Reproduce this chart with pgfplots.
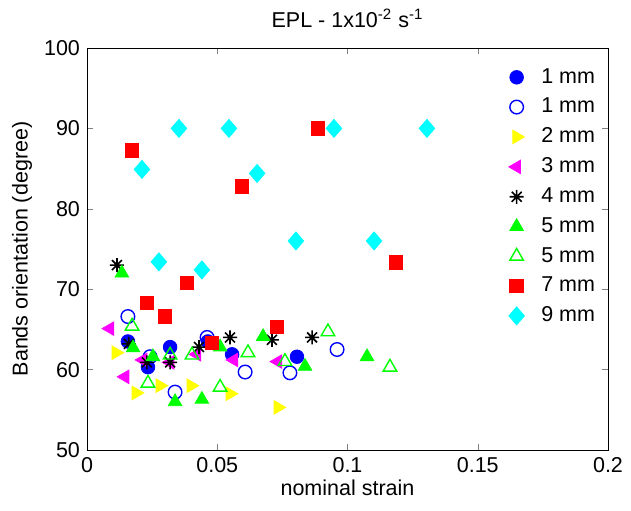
\documentclass[border=0pt]{standalone}
\usepackage{fontspec}
\setmainfont{Liberation Sans}
\usepackage{pgfplots}
\pgfplotsset{compat=1.18}

\definecolor{mblue}{RGB}{0,0,255}
\definecolor{myellow}{RGB}{255,255,0}
\definecolor{mmagenta}{RGB}{255,0,255}
\definecolor{mgreen}{RGB}{0,255,0}
\definecolor{mred}{RGB}{255,0,0}
\definecolor{mcyan}{RGB}{0,255,255}

% matlab-like asterisk (plus + cross)
\pgfdeclareplotmark{mstar}{%
  \pgfpathmoveto{\pgfqpoint{-\pgfplotmarksize}{0pt}}\pgfpathlineto{\pgfqpoint{\pgfplotmarksize}{0pt}}%
  \pgfpathmoveto{\pgfqpoint{0pt}{-\pgfplotmarksize}}\pgfpathlineto{\pgfqpoint{0pt}{\pgfplotmarksize}}%
  \pgfpathmoveto{\pgfqpoint{-.707\pgfplotmarksize}{-.707\pgfplotmarksize}}\pgfpathlineto{\pgfqpoint{.707\pgfplotmarksize}{.707\pgfplotmarksize}}%
  \pgfpathmoveto{\pgfqpoint{-.707\pgfplotmarksize}{.707\pgfplotmarksize}}\pgfpathlineto{\pgfqpoint{.707\pgfplotmarksize}{-.707\pgfplotmarksize}}%
  \pgfusepathqstroke}

\begin{document}
\begin{tikzpicture}
\path[use as bounding box] (-43.5bp,-30.5bp) rectangle (272bp,225bp);
\begin{axis}[
  at={(0,0)}, anchor=south west,
  scale only axis,
  width=260.5bp, height=201bp,
  xmin=0, xmax=0.2, ymin=50, ymax=100,
  xtick={0,0.05,0.1,0.15,0.2},
  xticklabels={0,0.05,0.1,0.15,0.2},
  ytick={50,60,70,80,90,100},
  /pgf/number format/assume math mode=true,
  tick pos=both, tick align=inside,
  major tick length=3bp,
  font=\fontsize{10.75bp}{13bp}\selectfont,
  every axis title shift=0pt,
  title={EPL - 1x10\textsuperscript{-2} s\textsuperscript{-1}},
  title style={at={(axis description cs:0.5,1.0746)}, anchor=center},
  xlabel={nominal strain},
  xlabel style={at={(axis description cs:0.5,-0.0945)}, anchor=center},
  ylabel={Bands orientation (degree)},
  ylabel style={at={(axis description cs:-0.1248,0.5)}, anchor=center},
  legend style={at={(axis description cs:0.995,0.97)}, anchor=north east,
    draw=none, fill=none, row sep=2bp},
  legend cell align=left,
  legend image code/.code={\draw[opacity=0] (0cm,0cm) -- (0.55cm,0cm);
    \draw[#1] plot coordinates {(0.2cm,0cm)};},
]
% 1 mm filled
\addplot[only marks, mark=*, color=mblue, mark size=3.4bp] coordinates {
(0.0157,63.5) (0.0234,60.3) (0.0319,62.8) (0.0464,63.5) (0.0557,61.9) (0.0806,61.6)
};
% 1 mm open
\addplot[only marks, mark=o, color=mblue, mark size=3.4bp, line width=0.7bp] coordinates {
(0.0157,66.6) (0.0242,61.6) (0.0338,57.2) (0.0461,64.0) (0.0607,59.7) (0.0779,59.6) (0.0960,62.5)
};
% 2 mm
\addplot[only marks, mark=triangle*, color=myellow, mark size=3.9bp, mark options={rotate=-90}] coordinates {
(0.0111,62.1) (0.0188,57.1) (0.0280,58.0) (0.0399,58.0) (0.0549,57.0) (0.0733,55.3)
};
% 3 mm
\addplot[only marks, mark=triangle*, color=mmagenta, mark size=3.9bp, mark options={rotate=90}] coordinates {
(0.0088,65.1) (0.0146,59.1) (0.0215,61.2) (0.0319,60.9) (0.0422,61.9) (0.0564,61.2) (0.0733,61.0)
};
% 4 mm
\addplot[only marks, mark=mstar, color=black, mark size=3.5bp, line width=0.8bp] coordinates {
(0.0115,73.0) (0.0161,63.2) (0.0230,60.9) (0.0319,60.9) (0.0430,62.8) (0.0549,64.0) (0.0710,63.7) (0.0864,64.0)
};
% 5 mm filled
\addplot[only marks, mark=triangle*, color=mgreen, mark size=3.9bp] coordinates {
(0.0134,72.0) (0.0177,62.7) (0.0253,61.6) (0.0338,56.0) (0.0441,56.3) (0.0511,62.8) (0.0676,64.1) (0.0837,60.4) (0.1075,61.6)
};
% 5 mm open
\addplot[only marks, mark=triangle, color=mgreen, mark size=3.9bp, line width=0.7bp] coordinates {
(0.0173,65.4) (0.0234,58.3) (0.0319,61.8) (0.0403,61.8) (0.0511,57.8) (0.0618,62.1) (0.0760,61.0) (0.0925,64.7) (0.1163,60.3)
};
% 7 mm
\addplot[only marks, mark=square*, color=mred, mark size=3.4bp] coordinates {
(0.0173,87.3) (0.0230,68.3) (0.0299,66.6) (0.0384,70.8) (0.0480,63.3) (0.0595,82.8) (0.0729,65.3) (0.0887,90.0) (0.1186,73.3)
};
% 9 mm
\addplot[only marks, mark=diamond*, color=mcyan, mark size=4.5bp, mark options={xscale=1.15}] coordinates {
(0.0353,90.0) (0.0545,90.0) (0.0211,84.9) (0.0653,84.4) (0.0276,73.4) (0.0441,72.4) (0.0948,90.0) (0.1305,90.0) (0.0802,76.0) (0.1102,76.0)
};
\legend{1 mm,1 mm,2 mm,3 mm,4 mm,5 mm,5 mm,7 mm,9 mm}
\end{axis}
\end{tikzpicture}
\end{document}
